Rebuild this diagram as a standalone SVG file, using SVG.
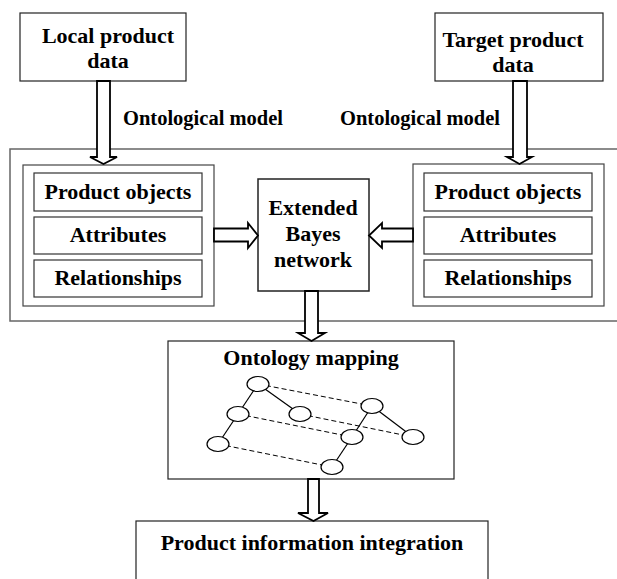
<svg xmlns="http://www.w3.org/2000/svg" width="617" height="579" viewBox="0 0 617 579">
<defs>
<style>
.t{font-family:"Liberation Serif","Times New Roman",serif;font-weight:bold;font-size:22px;fill:#000;text-anchor:middle}
.om{font-size:20.5px;text-anchor:start}
.box{fill:#fff;stroke:#222;stroke-width:1.2}
.outer{fill:none;stroke:#666;stroke-width:1.5}
.inner{fill:#fff;stroke:#444;stroke-width:1.2}
.item{fill:#fff;stroke:#333;stroke-width:1.2}
.arr{fill:#fff;stroke:#000;stroke-width:1.8;stroke-linejoin:miter}
.sol{stroke:#000;stroke-width:1.2;fill:none}
.dash{stroke:#000;stroke-width:1;stroke-dasharray:5,3;fill:none}
.nd{fill:#fff;stroke:#000;stroke-width:1.2}
</style>
</defs>
<rect class="outer" x="10" y="149" width="620" height="172"/>
<g id="local">
<rect class="box" x="20" y="13" width="166" height="68"/>
<text class="t" x="108" y="43">Local product</text>
<text class="t" x="108" y="68">data</text>
</g>
<g id="target">
<rect class="box" x="435" y="13" width="168" height="68"/>
<text class="t" x="513" y="47">Target product</text>
<text class="t" x="513" y="72">data</text>
</g>
<text class="t om" x="123" y="125">Ontological model</text>
<text class="t om" x="340" y="125">Ontological model</text>
<g id="left-model">
<rect class="inner" x="23" y="165" width="191" height="141"/>
<rect class="item" x="34" y="173" width="168" height="38"/>
<text class="t" x="118" y="199">Product objects</text>
<rect class="item" x="34" y="217" width="168" height="37"/>
<text class="t" x="118" y="242">Attributes</text>
<rect class="item" x="34" y="260" width="168" height="37"/>
<text class="t" x="118" y="285">Relationships</text>
</g>
<g id="right-model">
<rect class="inner" x="413" y="164" width="191" height="142"/>
<rect class="item" x="424" y="173" width="168" height="38"/>
<text class="t" x="508" y="199">Product objects</text>
<rect class="item" x="424" y="217" width="168" height="37"/>
<text class="t" x="508" y="242">Attributes</text>
<rect class="item" x="424" y="260" width="168" height="37"/>
<text class="t" x="508" y="285">Relationships</text>
</g>
<g id="ebn">
<rect class="box" x="258" y="179" width="111" height="112" style="stroke-width:1.5"/>
<text class="t" x="313" y="215">Extended</text>
<text class="t" x="313" y="241">Bayes</text>
<text class="t" x="313" y="267">network</text>
</g>
<g id="mapping">
<rect class="box" x="168" y="341" width="286" height="138"/>
<text class="t" x="311" y="365">Ontology mapping</text>
<g id="graph">
<line class="dash" x1="258" y1="384" x2="372" y2="406"/>
<line class="dash" x1="238" y1="414" x2="352" y2="437"/>
<line class="dash" x1="218" y1="444" x2="332" y2="467"/>
<line class="dash" x1="300" y1="414" x2="413" y2="437"/>
<line class="sol" x1="258" y1="384" x2="238" y2="414"/>
<line class="sol" x1="238" y1="414" x2="218" y2="444"/>
<line class="sol" x1="258" y1="384" x2="300" y2="414"/>
<line class="sol" x1="372" y1="406" x2="352" y2="437"/>
<line class="sol" x1="352" y1="437" x2="332" y2="467"/>
<line class="sol" x1="372" y1="406" x2="413" y2="437"/>
<ellipse class="nd" cx="258" cy="384" rx="11" ry="7.5"/>
<ellipse class="nd" cx="238" cy="414" rx="11" ry="7.5"/>
<ellipse class="nd" cx="218" cy="444" rx="11" ry="7.5"/>
<ellipse class="nd" cx="300" cy="414" rx="11" ry="7.5"/>
<ellipse class="nd" cx="372" cy="406" rx="11" ry="7.5"/>
<ellipse class="nd" cx="352" cy="437" rx="11" ry="7.5"/>
<ellipse class="nd" cx="332" cy="467" rx="11" ry="7.5"/>
<ellipse class="nd" cx="413" cy="437" rx="11" ry="7.5"/>
</g>
</g>
<g id="integration">
<rect class="box" x="136" y="521" width="352" height="70"/>
<text class="t" x="312" y="550">Product information integration</text>
</g>
<g id="connectors">
<polygon class="arr" points="97,81 110,81 110,157 117,157 103.5,164 90,157 97,157"/>
<polygon class="arr" points="513,81 527,81 527,157 532,157 519.5,164 507,157 513,157"/>
<polygon class="arr" points="214,228.5 248,228.5 248,223 258,235.5 248,248 248,241.5 214,241.5"/>
<polygon class="arr" points="413,228.5 382,228.5 382,223 369,235.5 382,248 382,241.5 413,241.5"/>
<polygon class="arr" points="305,291 318,291 318,333 325,333 311.5,341 298,333 305,333"/>
<polygon class="arr" points="308,479 319,479 319,513 328,513 313.5,521 298,513 308,513"/>
</g>
</svg>
